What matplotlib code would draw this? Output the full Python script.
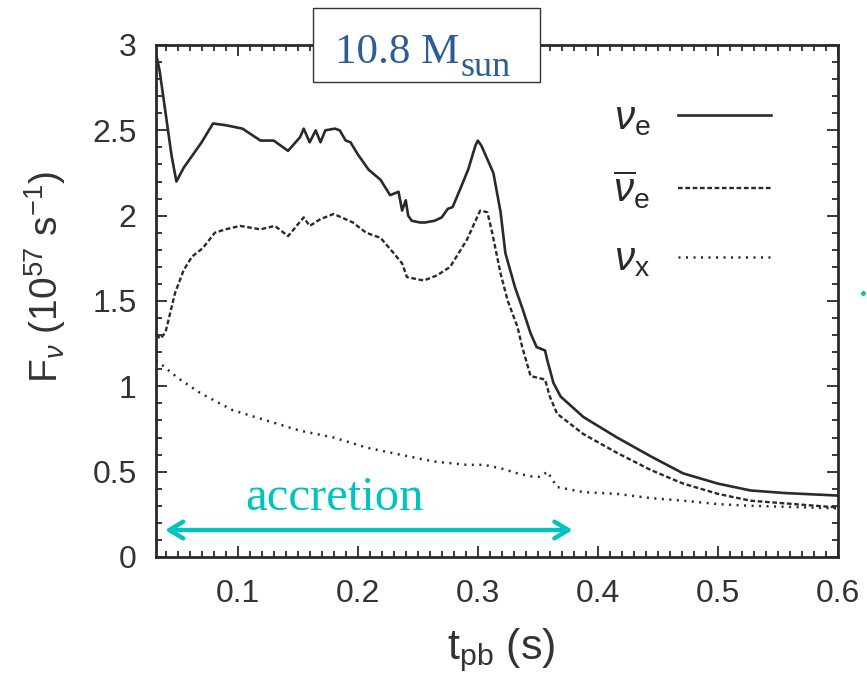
import matplotlib
matplotlib.use("Agg")
import matplotlib.pyplot as plt
from matplotlib.ticker import MultipleLocator
from matplotlib.patches import Rectangle
from matplotlib.lines import Line2D

plt.rcParams['font.family'] = ['Liberation Sans', 'DejaVu Sans']
plt.rcParams['mathtext.fontset'] = 'custom'
plt.rcParams['mathtext.rm'] = 'Liberation Sans'
plt.rcParams['mathtext.it'] = 'Liberation Sans:italic'
plt.rcParams['mathtext.bf'] = 'Liberation Sans:bold'

# ---------------- data ----------------
t_nue = [0.032, 0.035, 0.040, 0.045, 0.049, 0.055, 0.062, 0.070, 0.0795, 0.090,
         0.104, 0.119, 0.130, 0.142, 0.152, 0.155, 0.160, 0.165, 0.169, 0.173,
         0.181, 0.185, 0.190, 0.194, 0.200, 0.209, 0.219, 0.227, 0.234, 0.237,
         0.240, 0.242, 0.245, 0.252, 0.256, 0.264, 0.270, 0.275, 0.279, 0.285,
         0.292, 0.298, 0.300, 0.303, 0.313, 0.319, 0.323, 0.331, 0.337, 0.344,
         0.349, 0.356, 0.358, 0.363, 0.369, 0.388, 0.416, 0.444, 0.471, 0.500,
         0.527, 0.555, 0.600]
F_nue = [2.95, 2.85, 2.60, 2.35, 2.20, 2.28, 2.35, 2.43, 2.54, 2.53,
         2.51, 2.44, 2.44, 2.38, 2.46, 2.51, 2.43, 2.50, 2.43, 2.50,
         2.51, 2.50, 2.44, 2.43, 2.36, 2.27, 2.21, 2.12, 2.14, 2.03,
         2.09, 2.00, 1.97, 1.96, 1.96, 1.97, 1.99, 2.04, 2.05, 2.15,
         2.27, 2.41, 2.44, 2.41, 2.25, 2.02, 1.78, 1.58, 1.46, 1.31,
         1.23, 1.21, 1.15, 1.02, 0.94, 0.82, 0.70, 0.59, 0.49, 0.43,
         0.39, 0.375, 0.36]

t_nuebar = [0.032, 0.036, 0.040, 0.048, 0.055, 0.062, 0.071, 0.081, 0.090, 0.102,
            0.119, 0.131, 0.142, 0.155, 0.160, 0.169, 0.180, 0.196, 0.207, 0.219,
            0.230, 0.237, 0.241, 0.255, 0.266, 0.277, 0.291, 0.302, 0.308, 0.312,
            0.319, 0.325, 0.333, 0.337, 0.344, 0.356, 0.360, 0.366, 0.388, 0.416,
            0.444, 0.471, 0.500, 0.527, 0.600]
F_nuebar = [1.30, 1.28, 1.32, 1.55, 1.68, 1.76, 1.81, 1.90, 1.92, 1.94,
            1.92, 1.94, 1.88, 1.99, 1.94, 1.98, 2.01, 1.96, 1.90, 1.87,
            1.78, 1.72, 1.64, 1.62, 1.65, 1.70, 1.86, 2.03, 2.02, 1.90,
            1.66, 1.50, 1.35, 1.23, 1.06, 1.04, 0.94, 0.84, 0.72, 0.61,
            0.51, 0.43, 0.37, 0.33, 0.29]

t_nux = [0.032, 0.038, 0.050, 0.069, 0.096, 0.124, 0.152, 0.180, 0.208, 0.235,
         0.263, 0.291, 0.305, 0.319, 0.333, 0.346, 0.352, 0.358, 0.366, 0.388,
         0.416, 0.444, 0.471, 0.500, 0.527, 0.600]
F_nux = [1.15, 1.12, 1.05, 0.96, 0.86, 0.80, 0.74, 0.70, 0.64, 0.60,
         0.56, 0.54, 0.54, 0.52, 0.49, 0.47, 0.47, 0.50, 0.41, 0.38,
         0.37, 0.345, 0.33, 0.31, 0.30, 0.285]

labels = [r'$\nu_\mathrm{e}$', r'$\overline{\nu}_\mathrm{e}$', r'$\nu_\mathrm{x}$']
xticks = [0.1, 0.2, 0.3, 0.4, 0.5, 0.6]
xticklabels = ['0.1', '0.2', '0.3', '0.4', '0.5', '0.6']
yticks = [0, 0.5, 1, 1.5, 2, 2.5, 3]
yticklabels = ['0', '0.5', '1', '1.5', '2', '2.5', '3']
accretion_range = (0.0395, 0.379)
accretion_level = 0.158

# ---------------- figure ----------------
fig = plt.figure(figsize=(8.67, 6.78), dpi=100)
ax = fig.add_axes([156/867, 1 - 557/678, (838 - 156)/867, (557 - 45)/678])

dark = '#2a2a2a'
cyan = '#00c4bf'

ax.plot(t_nue, F_nue, color=dark, lw=1.9, ls='-', label=labels[0])
ax.plot(t_nuebar, F_nuebar, color=dark, lw=1.7, ls=(0, (2.0, 1.1)), label=labels[1])
ax.plot(t_nux, F_nux, color=dark, lw=1.8, ls=(0, (0.8, 2.2)), label=labels[2])

ax.set_xlim(0.032, 0.6)
ax.set_ylim(0, 3)
ax.set_xticks(xticks)
ax.set_xticklabels(xticklabels)
ax.set_yticks(yticks)
ax.set_yticklabels(yticklabels)
ax.xaxis.set_minor_locator(MultipleLocator(0.01))
ax.yaxis.set_minor_locator(MultipleLocator(0.1))
ax.tick_params(which='both', direction='in', top=True, right=True, colors=dark,
               width=1.3)
ax.tick_params(which='major', length=8)
ax.tick_params(which='minor', length=4)
ax.tick_params(axis='x', which='major', pad=16, labelsize=23, labelcolor='#333333')
ax.tick_params(axis='y', which='major', pad=14, labelsize=23, labelcolor='#333333')
for s in ax.spines.values():
    s.set_linewidth(2)
    s.set_color(dark)

ax.text(-0.163, 0.547, r'F$_\nu$ (10$^{57}$ s$^{-1}$)', transform=ax.transAxes,
        rotation=90, ha='center', va='center', fontsize=28, color='#333333')
ax.text(0.506, -0.182, r't$_\mathrm{pb}$ (s)', transform=ax.transAxes,
        ha='center', va='center', fontsize=31, color='#333333')

leg = ax.legend(loc='upper right', frameon=False, markerfirst=False,
                fontsize=29, handlelength=2.3, labelspacing=0.75,
                bbox_to_anchor=(0.955, 0.965), handletextpad=0.7)
for txt in leg.get_texts():
    txt.set_color(dark)

# accretion arrow and label
ax.annotate('', xy=(accretion_range[1], accretion_level),
            xytext=(accretion_range[0], accretion_level),
            arrowprops=dict(arrowstyle='<->,head_length=1.0,head_width=0.6',
                            color=cyan, lw=3.2, shrinkA=0, shrinkB=0))
ax.text(0.181, 0.275, 'accretion', color=cyan, fontsize=35,
        family='Liberation Serif', ha='center', va='baseline')

# mass box
box = Rectangle((313/867, 1 - 82/678), 227/867, 74/678, transform=fig.transFigure,
                facecolor='white', edgecolor='#333333', lw=1.0, zorder=5)
fig.add_artist(box)
t1 = fig.text(335/867, 1 - 63/678, '10.8 M', color='#2e5d93', fontsize=31,
              family='Liberation Serif', ha='left', va='baseline', zorder=6)
fig.canvas.draw()
bb = t1.get_window_extent()
fig.text(bb.x1 / 867 + 0.001, 1 - 76/678, 'sun', color='#2e5d93', fontsize=26,
         family='Liberation Serif', ha='left', va='baseline', zorder=6)

fig.add_artist(Line2D([863/867], [1 - 293/678], marker='o', ms=2.5, color=cyan,
                      transform=fig.transFigure, lw=0))

fig.savefig('out.png', dpi=100)
